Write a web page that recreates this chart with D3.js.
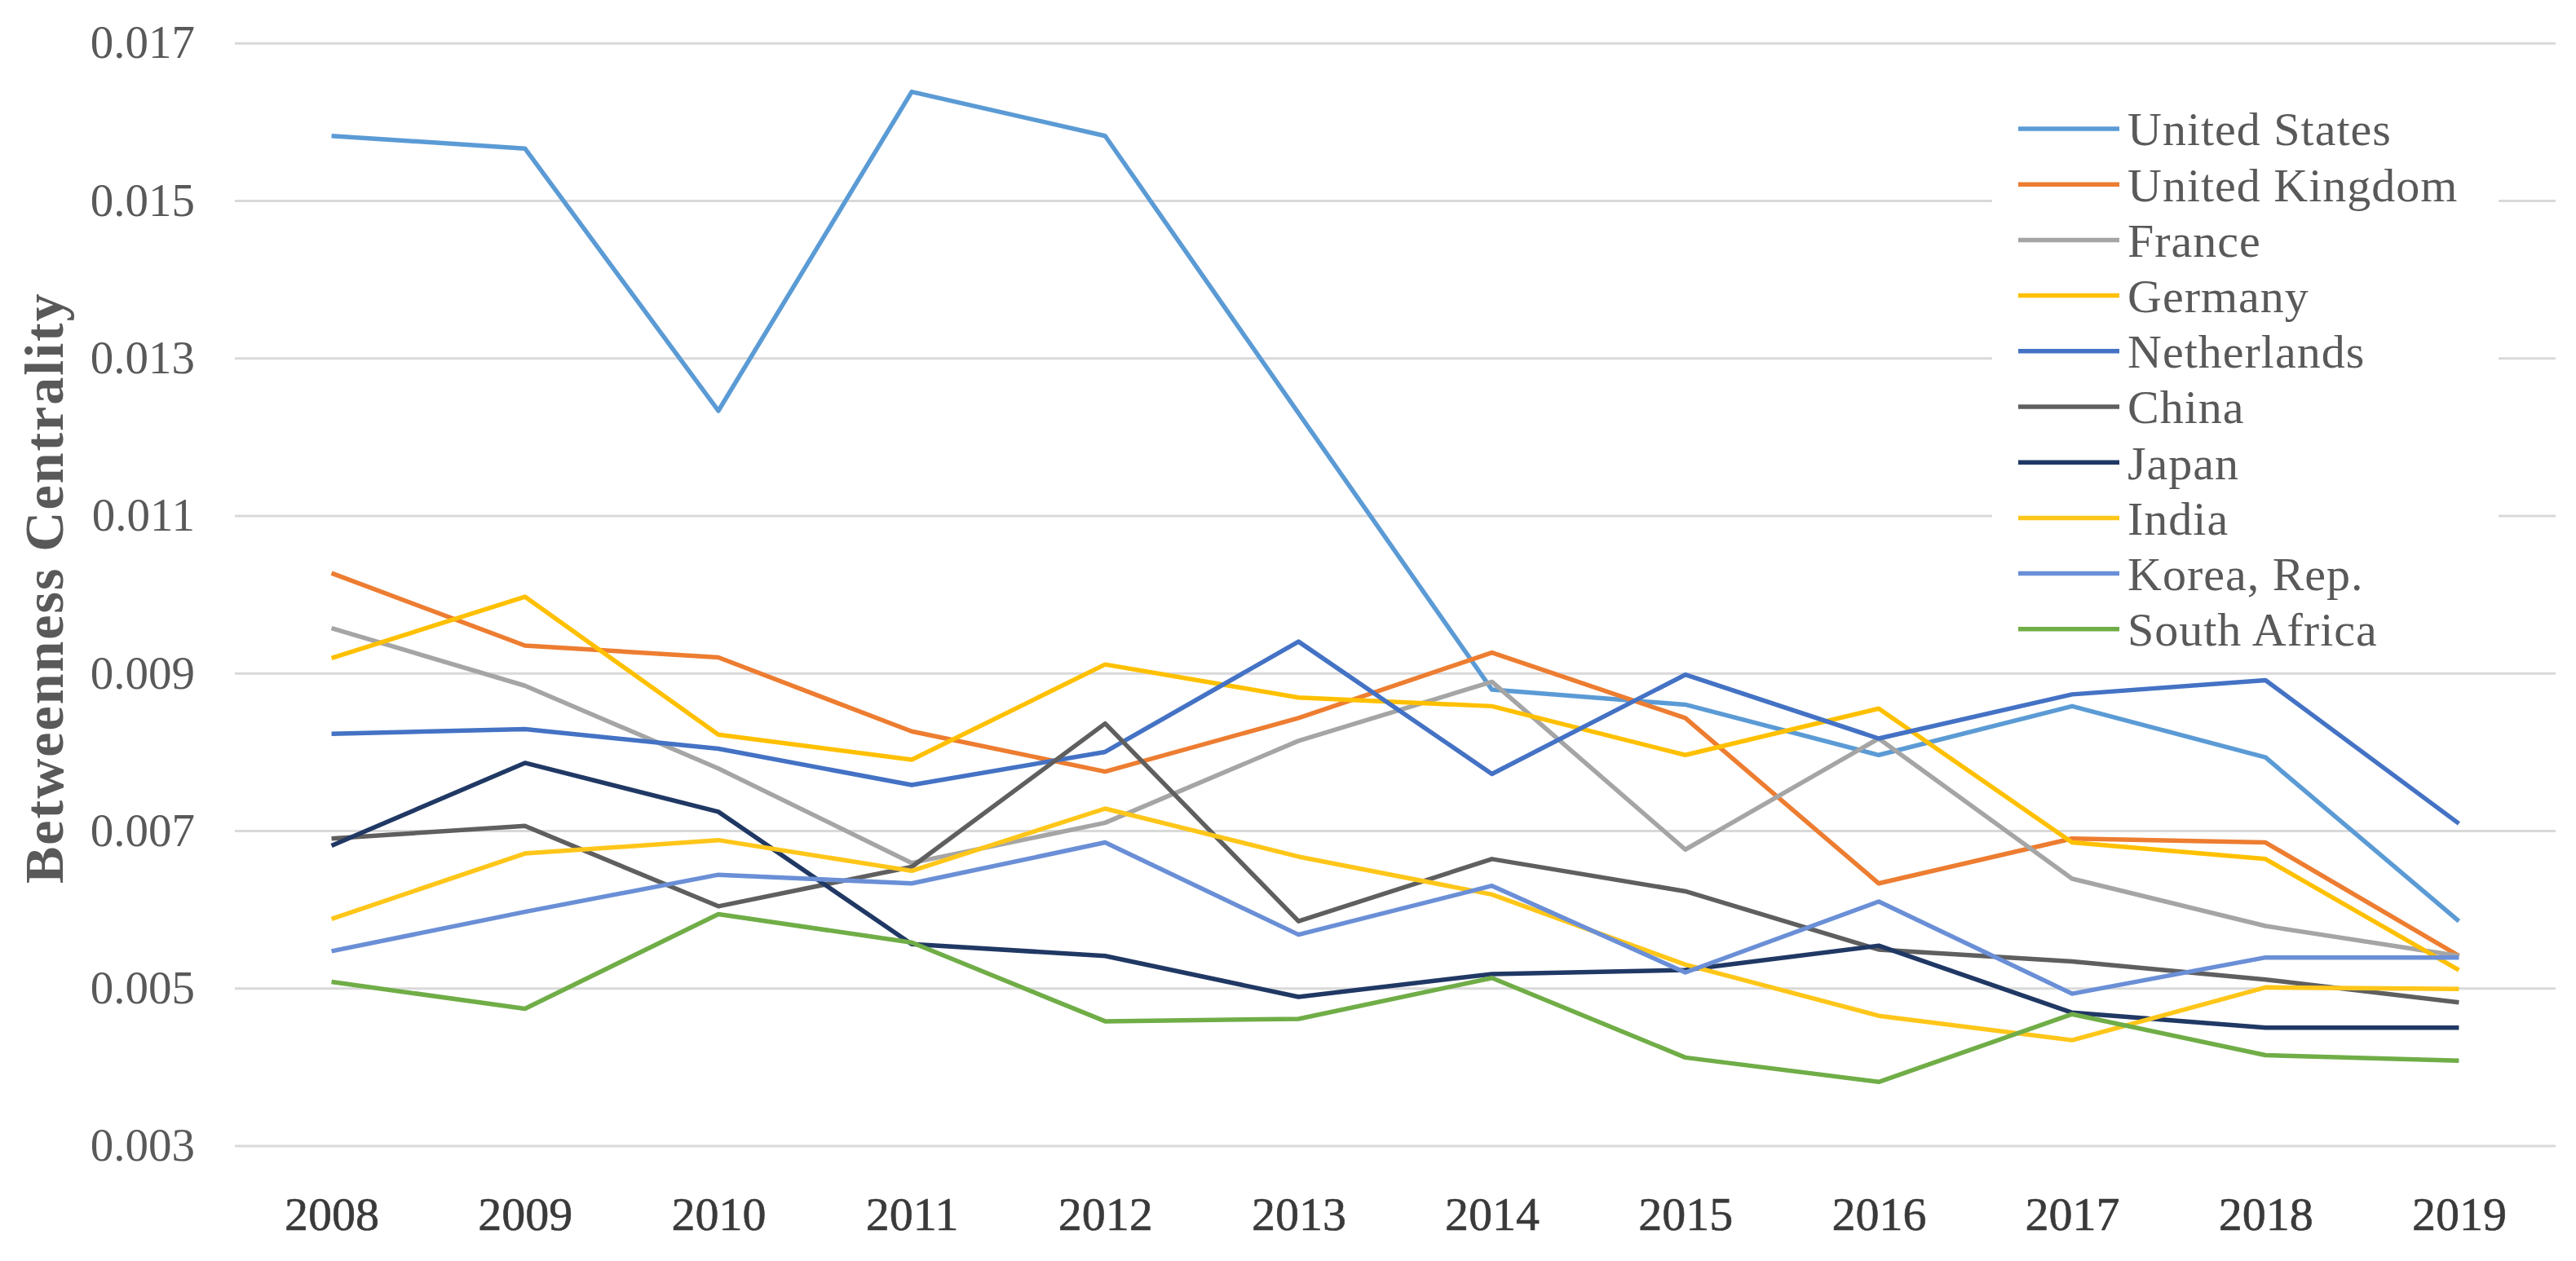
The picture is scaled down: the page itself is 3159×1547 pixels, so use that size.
<!DOCTYPE html>
<html>
<head>
<meta charset="utf-8">
<script src="https://cdn.jsdelivr.net/npm/d3@7"></script>
<style>
  body { margin: 0; background: #fff; }
  svg { display: block; }
</style>
</head>
<body>
<div id="chart"></div>
<script>
// years on the category axis
const years = ["2008", "2009", "2010", "2011", "2012", "2013", "2014", "2015", "2016", "2017", "2018", "2019"];

// betweenness centrality per country
const unitedStates  = [0.01582, 0.01566, 0.01233, 0.01638, 0.01582, 0.01230, 0.00879, 0.00860, 0.00796, 0.00858, 0.00793, 0.00585];
const unitedKingdom = [0.01027, 0.00935, 0.00920, 0.00826, 0.00775, 0.00843, 0.00926, 0.00843, 0.00633, 0.00690, 0.00685, 0.00541];
const france        = [0.00957, 0.00884, 0.00779, 0.00659, 0.00710, 0.00814, 0.00889, 0.00676, 0.00817, 0.00639, 0.00579, 0.00541];
const germany       = [0.00919, 0.00997, 0.00822, 0.00790, 0.00911, 0.00869, 0.00858, 0.00796, 0.00855, 0.00685, 0.00664, 0.00523];
const netherlands   = [0.00823, 0.00829, 0.00804, 0.00758, 0.00800, 0.00940, 0.00772, 0.00898, 0.00817, 0.00873, 0.00891, 0.00709];
const china         = [0.00690, 0.00706, 0.00604, 0.00654, 0.00836, 0.00585, 0.00664, 0.00623, 0.00549, 0.00534, 0.00511, 0.00482];
const japan         = [0.00681, 0.00786, 0.00724, 0.00556, 0.00541, 0.00489, 0.00518, 0.00523, 0.00554, 0.00469, 0.00450, 0.00450];
const india         = [0.00588, 0.00671, 0.00688, 0.00649, 0.00728, 0.00667, 0.00619, 0.00530, 0.00465, 0.00434, 0.00501, 0.00499];
const korea         = [0.00547, 0.00597, 0.00644, 0.00633, 0.00685, 0.00568, 0.00630, 0.00520, 0.00610, 0.00493, 0.00539, 0.00539];
const southAfrica   = [0.00508, 0.00474, 0.00594, 0.00558, 0.00458, 0.00461, 0.00513, 0.00412, 0.00381, 0.00467, 0.00415, 0.00408];

const countries = ["United States", "United Kingdom", "France", "Germany", "Netherlands", "China", "Japan", "India", "Korea, Rep.", "South Africa"];
const colors = ["#5B9BD5", "#ED7D31", "#A5A5A5", "#FFC000", "#4472C4", "#5F5F5F", "#203864", "#FFC61A", "#6A8FD6", "#70AD47"];

const yTicks = [0.003, 0.005, 0.007, 0.009, 0.011, 0.013, 0.015, 0.017];
const yTitle = "Betweenness Centrality";

const seriesValues = [unitedStates, unitedKingdom, france, germany, netherlands, china, japan, india, korea, southAfrica];
const series = countries.map((name, i) => ({ name: name, color: colors[i], values: seriesValues[i] }));

const width = 3159;
const height = 1547;
const plotLeft = 288, plotRight = 3134, plotTop = 52.7, plotBottom = 1405.6;
const font = "'Liberation Serif', 'Times New Roman', serif";

const svg = d3.select("#chart").append("svg")
    .attr("width", width)
    .attr("height", height);

const x = d3.scalePoint()
    .domain(years)
    .range([plotLeft, plotRight])
    .padding(0.5);

const y = d3.scaleLinear()
    .domain([0.003, 0.017])
    .range([plotBottom, plotTop]);

// horizontal gridlines + y tick labels
const yAxis = svg.append("g")
    .attr("transform", `translate(${plotLeft},0)`)
    .call(d3.axisLeft(y)
        .tickValues(yTicks)
        .tickFormat(d3.format(".3f"))
        .tickSize(-(plotRight - plotLeft))
        .tickPadding(49));
yAxis.select(".domain").remove();
yAxis.selectAll(".tick line")
    .attr("stroke", "#d9d9d9")
    .attr("stroke-width", 3);
yAxis.selectAll(".tick text")
    .attr("fill", "#595959")
    .style("font-family", font)
    .style("font-size", "57px");

// x labels
const xAxis = svg.append("g")
    .attr("transform", `translate(0,${plotBottom})`)
    .call(d3.axisBottom(x).tickSize(0).tickPadding(62));
xAxis.select(".domain").remove();
xAxis.selectAll(".tick text")
    .attr("fill", "#3a3a3a")
    .attr("stroke", "#3a3a3a")
    .attr("stroke-width", 0.6)
    .style("font-family", font)
    .style("font-size", "58px");

// axis title
svg.append("text")
    .attr("transform", `translate(77,${(plotTop + plotBottom) / 2 - 8}) rotate(-90)`)
    .attr("text-anchor", "middle")
    .attr("fill", "#595959")
    .style("font-family", font)
    .style("font-weight", "bold")
    .style("font-size", "68px")
    .style("letter-spacing", "2px")
    .text(yTitle);

// lines
const line = d3.line()
    .x((d, i) => x(years[i]))
    .y(d => y(d));

svg.append("g").selectAll("path")
    .data(series)
    .enter().append("path")
    .attr("fill", "none")
    .attr("stroke", d => d.color)
    .attr("stroke-width", 5.5)
    .attr("stroke-linejoin", "round")
    .attr("d", d => line(d.values));

// legend (white box hides the gridlines behind it)
const legend = svg.append("g");
legend.append("rect")
    .attr("x", 2443).attr("y", 110)
    .attr("width", 621).attr("height", 700)
    .attr("fill", "#fff");

const rowH = 68.2;
const rows = legend.selectAll(".row")
    .data(series)
    .enter().append("g")
    .attr("class", "row")
    .attr("transform", (d, i) => `translate(2475,${158 + i * rowH})`);

rows.append("line")
    .attr("x1", 0).attr("x2", 124)
    .attr("stroke", d => d.color)
    .attr("stroke-width", 5.5);

rows.append("text")
    .attr("x", 134)
    .attr("dy", "0.35em")
    .attr("fill", "#595959")
    .style("font-family", font)
    .style("font-size", "58px")
    .style("letter-spacing", "1px")
    .text(d => d.name);
</script>
</body>
</html>
